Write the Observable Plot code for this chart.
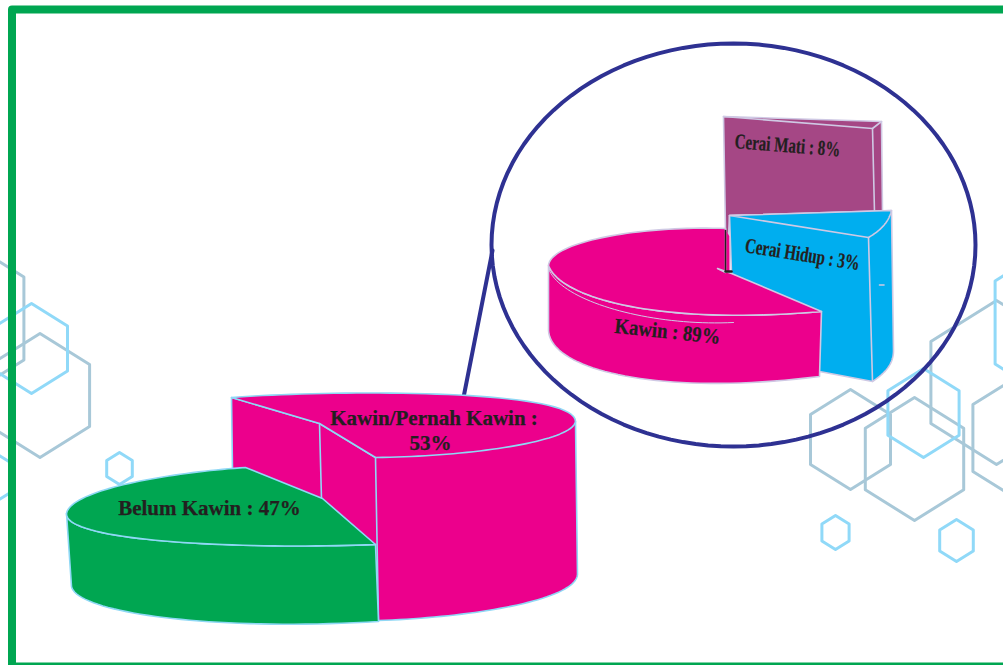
<!DOCTYPE html>
<html>
<head>
<meta charset="utf-8">
<style>
html,body{margin:0;padding:0;background:#fff;overflow:hidden}
svg{display:block}
</style>
<script src="https://cdn.jsdelivr.net/npm/d3@7"></script>
<script src="https://cdn.jsdelivr.net/npm/@observablehq/plot@0.6"></script>
</head>
<body>
<div id="chart"></div>
<script>
// Values shown by the chart
const maritalCategories = ["Belum Kawin", "Kawin/Pernah Kawin"];
const maritalValues = [47, 53];
const everMarriedCategories = ["Kawin", "Cerai Hidup", "Cerai Mati"];
const everMarriedValues = [89, 3, 8];

// Colours
const PINK = "#ec008c", GREEN = "#00a651", CYAN = "#00aeef", PLUM = "#a54785";
const NAVY = "#2e3192", INK = "#231f20", EDGE_MAIN = "#8fd8f5", EDGE_INSET = "#cfc9e4";
const HEX_GREY = "#a8c8d8", HEX_BLUE = "#90d9f8";

// Background hexagons: centre, vertical radius
const greyHexagons = [[-43,318,83],[39.5,395,62],[850,439,50],[914,458.5,61.5],[996,382,82],[1026,437.5,67]];
const blueHexagons = [[31,348,45],[-14,477,30],[119,468,16],[923,412.5,44.5],[1061,322,83],[835,532,17],[956,540,21]];
const hexagon = ([cx,cy,r]) => [[cx,cy-r],[cx+.8*r,cy-r/2],[cx+.8*r,cy+r/2],[cx,cy+r],[cx-.8*r,cy+r/2],[cx-.8*r,cy-r/2]];

// Cubic sketch curve between two outline points
const bend = (p, a, b, q, n = 40) => d3.range(n + 1).map(i => {
  const t = i / n, u = 1 - t;
  const f = k => u*u*u*p[k] + 3*u*u*t*a[k] + 3*u*t*t*b[k] + t*t*t*q[k];
  return [f(0), f(1)];
});
const ringPoints = (cx, cy, rx, ry) => d3.range(0, 121).map(i => {
  const a = i / 120 * 2 * Math.PI;
  return [cx + rx*Math.cos(a), cy + ry*Math.sin(a)];
});

const xy = {x: d => d[0], y: d => d[1]};
const shape = (pts, fill, stroke, w = 1.6) =>
  Plot.line(pts, {...xy, fill, stroke, strokeWidth: w, curve: "linear-closed", strokeLinejoin: "round"});
const path = (pts, stroke, w = 1.6) =>
  Plot.line(pts, {...xy, stroke, strokeWidth: w, strokeLinejoin: "round"});

// Main pie outlines
const mainPinkFront = bend([575,421],[572,441],[470,456],[375,457]);
const mainPinkBody = [[231,397],[319,423],[375,457],[575,421],[577,574],
  ...bend([577,574],[575,600],[470,617],[378,620]),[321,499],[232,470]];
const mainPinkTop = [...bend([231,397],[320,390],[575,387],[575,421]),
  ...mainPinkFront.slice(1),[319,423]];
const mainGreenFront = bend([375,544],[250,549],[64,542],[66,513]);
const mainGreenBody = [...mainGreenFront,[71,586],
  ...bend([71,586],[76,612],[210,631],[378,621])];
const mainGreenTop = [...bend([66,513],[70,489],[170,472],[245,467]),[322,498],
  ...mainGreenFront];

// Inset pie outlines
const insetPlum = [[723,116],[881,121],[882,212],[729,215],[728,237],[725,230]];
const insetCyan = [[729,215],[891,210],[893,350],...bend([893,350],[893,364],[884,373],[872,381]).slice(1),[819,371],[731,273]];
const insetCyanTop = [[729,215],[891,210],...bend([891,210],[888,222],[880,230],[868,237]).slice(1)];
const insetFront = bend([548,265],[560,298],[660,325],[821,311]);
const insetPinkTop = [...bend([548,265],[550,241],[640,225],[725,228]),[725,272],[717,268],[731,273],[821,311],
  ...insetFront.slice().reverse().slice(1)];
const insetPinkBody = [...insetFront,[819,376],
  ...bend([819,376],[660,396],[550,370],[548,330]).slice(1)];
const insetRim = bend([548,268],[560,301],[650,326],[733,322]);

const txt = (label, x, y, size, rotate = 0) =>
  Plot.text([label], {x: () => x, y: () => y, text: d => d, rotate, fontFamily: "Liberation Serif",
    fontWeight: "bold", fontSize: size, fill: INK, stroke: INK, strokeWidth: 0.25, textAnchor: "middle", lineAnchor: "middle"});

const mainLabel = i => `${maritalCategories[i]} : ${maritalValues[i]}%`;
const insetLabel = i => `${everMarriedCategories[i]} : ${everMarriedValues[i]}%`;

const plot = Plot.plot({
  width: 1003, height: 665, margin: 0,
  x: {domain: [0, 1003], axis: null},
  y: {domain: [665, 0], axis: null},
  marks: [
    ...greyHexagons.map(h => shape(hexagon(h), "none", HEX_GREY, 3)),
    ...blueHexagons.map(h => shape(hexagon(h), "none", HEX_BLUE, 3)),
    shape([[11.5,9],[1020,9],[1020,666],[11.5,666]], "none", GREEN, 8),
    path([[463,397],[492,250]], NAVY, 4),
    path(ringPoints(733,244.5,242,201.5), NAVY, 4),

    // inset pie
    shape(insetPlum, PLUM, EDGE_INSET),
    path([[723,116],[872,128],[881,121]], EDGE_INSET),
    path([[872,128],[874,212]], EDGE_INSET),
    shape([[725,229],[729,236],[729,271],[725,271]], PINK, "none"),
    shape(insetCyan, CYAN, EDGE_INSET),
    shape(insetCyanTop, CYAN, EDGE_INSET),
    path([[868,237],[872,381]], EDGE_INSET),
    path([[879,284.5],[883.5,284.5]], EDGE_INSET),
    shape(insetPinkBody, PINK, EDGE_INSET),
    shape(insetPinkTop, PINK, EDGE_INSET),
    path(insetRim, EDGE_INSET, 1),
    path([[725,230],[725,270]], INK, 1.5),
    path([[725,271],[731,271]], INK, 2.5),

    // main pie
    shape(mainPinkBody, PINK, EDGE_MAIN),
    shape(mainPinkTop, PINK, EDGE_MAIN),
    path([[319,423],[321,499]], EDGE_MAIN),
    path([[375,457],[378,620]], EDGE_MAIN),
    shape(mainGreenBody, GREEN, EDGE_MAIN),
    shape(mainGreenTop, GREEN, EDGE_MAIN),

    // labels
    txt(mainLabel(0), 209, 508, 21),
    txt(`${maritalCategories[1]} :`, 433.5, 418, 21),
    txt(`${maritalValues[1]}%`, 430, 443, 21),
    txt(insetLabel(2), 787, 145, 21, 4.5),
    txt(insetLabel(1), 802, 254, 21, 9),
    txt(insetLabel(0), 667, 331, 21.5, 6)
  ]
});

// Inset labels are set in a condensed width
const condensed = {[insetLabel(2)]: 106, [insetLabel(1)]: 116, [insetLabel(0)]: 106};
d3.select(plot).selectAll("text").each(function () {
  const w = condensed[this.textContent];
  if (w) d3.select(this).attr("textLength", w).attr("lengthAdjust", "spacingAndGlyphs");
});
document.getElementById("chart").appendChild(plot);
</script>
</body>
</html>
